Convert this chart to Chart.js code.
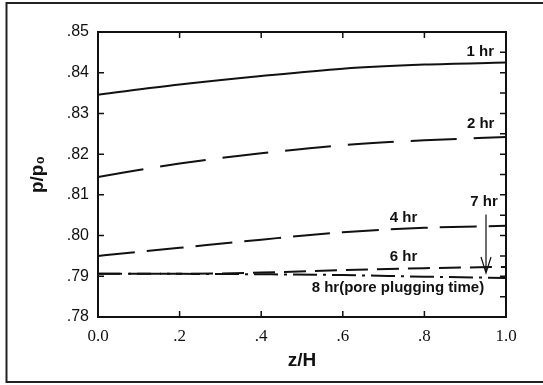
<!DOCTYPE html>
<html lang="en">
<head>
  <meta charset="UTF-8">
  <title>p/p0 vs z/H</title>
  <script src="https://cdn.jsdelivr.net/npm/chart.js"></script>
  <style>
    html, body { margin: 0; padding: 0; background: #fff; }
    .chart-container { width: 543px; height: 385px; position: relative; }
  </style>
</head>
<body>
  <div class="chart-container">
    <canvas id="pChart"></canvas>
  </div>

  <script>
    const zH = [0, 0.2, 0.4, 0.6, 0.8, 1.0];
    const hr1 = [0.8346, 0.8371, 0.8392, 0.8410, 0.8420, 0.8425];
    const hr2 = [0.8144, 0.8177, 0.8202, 0.8222, 0.8234, 0.8242];
    const hr4 = [0.7950, 0.7970, 0.7990, 0.8008, 0.8019, 0.8024];
    const hr6 = [0.7906, 0.7906, 0.7909, 0.7915, 0.7920, 0.7923];
    const hr8 = [0.7906, 0.7906, 0.7905, 0.7903, 0.7899, 0.7896];

    const xTickLabels = ['0.0', '.2', '.4', '.6', '.8', '1.0'];
    const yTickLabels = ['.78', '.79', '.80', '.81', '.82', '.83', '.84', '.85'];

    // curve labels, placed in data coordinates
    const curveLabels = [
      { text: '1 hr', x: 0.937, y: 0.8451 },
      { text: '2 hr', x: 0.938, y: 0.8275 },
      { text: '4 hr', x: 0.749, y: 0.8044 },
      { text: '6 hr', x: 0.749, y: 0.7948 },
      { text: '7 hr', x: 0.946, y: 0.8083 },
      { text: '8 hr(pore plugging time)', x: 0.735, y: 0.7872 }
    ];
    const arrow7 = { x: 0.951, yFrom: 0.8052, yTo: 0.7908 };

    const ink = '#111';
    const pts = arr => arr.map((v, i) => ({ x: zH[i], y: v }));
    const line = (label, arr, dash) => ({
      label,
      data: pts(arr),
      borderColor: ink,
      borderWidth: 2,
      borderDash: dash,
      pointRadius: 0,
      cubicInterpolationMode: 'monotone',
      fill: false
    });

    const decor = {
      id: 'decor',
      afterDraw(chart) {
        const { ctx, chartArea: a, scales: { x, y } } = chart;
        ctx.save();
        ctx.strokeStyle = ink;
        ctx.lineWidth = 2;
        ctx.setLineDash([]);
        // plot frame
        ctx.strokeRect(a.left, a.top, a.right - a.left, a.bottom - a.top);
        // inward ticks
        ctx.lineWidth = 1.5;
        ctx.beginPath();
        for (let v = 0.78; v <= 0.8501; v += 0.01) {
          const py = y.getPixelForValue(v);
          ctx.moveTo(a.left, py); ctx.lineTo(a.left + 6, py);
        }
        for (let v = 0.78; v <= 0.8501; v += 0.005) {
          const py = y.getPixelForValue(v);
          ctx.moveTo(a.right, py); ctx.lineTo(a.right - 6, py);
        }
        for (let v = 0.2; v < 0.99; v += 0.2) {
          const px = x.getPixelForValue(v);
          ctx.moveTo(px, a.bottom); ctx.lineTo(px, a.bottom - 6);
          ctx.moveTo(px, a.top); ctx.lineTo(px, a.top + 6);
        }
        ctx.stroke();

        // 7 hr arrow
        const ax = x.getPixelForValue(arrow7.x);
        const ay0 = y.getPixelForValue(arrow7.yFrom);
        const ay1 = y.getPixelForValue(arrow7.yTo);
        ctx.lineWidth = 1.2;
        ctx.beginPath();
        ctx.moveTo(ax, ay0); ctx.lineTo(ax, ay1);
        ctx.moveTo(ax - 5, ay1 - 16); ctx.lineTo(ax, ay1); ctx.lineTo(ax + 5, ay1 - 16);
        ctx.stroke();

        // curve labels
        ctx.fillStyle = ink;
        ctx.font = 'bold 15px "Liberation Sans", Arial, sans-serif';
        ctx.textAlign = 'center';
        ctx.textBaseline = 'middle';
        curveLabels.forEach(l => {
          ctx.fillText(l.text, x.getPixelForValue(l.x), y.getPixelForValue(l.y));
        });

        // outer scan frame
        ctx.lineWidth = 2;
        ctx.strokeStyle = '#222';
        ctx.beginPath();
        ctx.moveTo(543, 3); ctx.lineTo(6.5, 3); ctx.lineTo(6.5, 382); ctx.lineTo(543, 382);
        ctx.stroke();
        ctx.restore();
      }
    };

    new Chart(document.getElementById('pChart'), {
      type: 'line',
      data: {
        datasets: [
          line('1 hr', hr1, []),
          line('2 hr', hr2, [46, 17]),
          line('4 hr', hr4, [37, 12]),
          line('6 hr', hr6, [22, 9]),
          line('8 hr', hr8, [24, 6, 3, 6])
        ]
      },
      options: {
        responsive: true,
        maintainAspectRatio: false,
        animation: false,
        layout: { padding: { left: 26, top: 32, right: 37, bottom: 13 } },
        plugins: {
          legend: { display: false },
          tooltip: { enabled: false }
        },
        scales: {
          x: {
            type: 'linear',
            min: 0,
            max: 1,
            grid: { display: false, drawTicks: false },
            border: { display: false },
            afterFit: s => { s.height = 55; },
            ticks: {
              stepSize: 0.2,
              padding: 9,
              color: ink,
              font: { family: '"Liberation Serif", "Times New Roman", serif', size: 17 },
              callback: (v, i) => xTickLabels[i]
            },
            title: {
              display: true,
              text: 'z/H',
              color: ink,
              padding: 0,
              font: { family: '"Liberation Sans", Arial, sans-serif', size: 19, weight: 'bold' }
            }
          },
          y: {
            min: 0.78,
            max: 0.85,
            grid: { display: false, drawTicks: false },
            border: { display: false },
            afterFit: s => { s.width = 72; },
            ticks: {
              stepSize: 0.01,
              padding: 9,
              color: ink,
              font: { family: '"Liberation Sans", Arial, sans-serif', size: 16 },
              callback: (v, i) => yTickLabels[i]
            },
            title: {
              display: true,
              text: 'p/p₀',
              color: ink,
              padding: 0,
              font: { family: '"Liberation Sans", Arial, sans-serif', size: 19, weight: 'bold' }
            }
          }
        }
      },
      plugins: [decor]
    });
  </script>
</body>
</html>
